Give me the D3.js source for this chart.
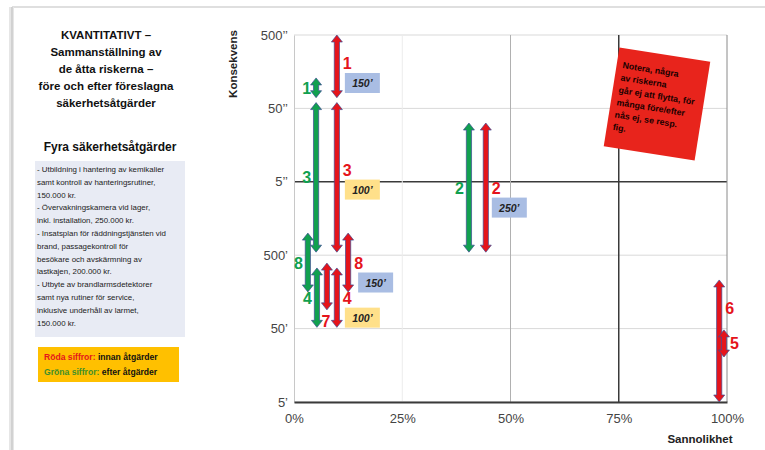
<!DOCTYPE html>
<html>
<head>
<meta charset="utf-8">
<script src="https://cdn.jsdelivr.net/npm/d3@7"></script>
<style>
  body { margin: 0; background: #fff; }
  svg { display: block; font-family: "Liberation Sans", Arial, sans-serif; }
</style>
</head>
<body>
<svg id="canvas"></svg>
<script>
// --- data (kr, probability in %) ---
let redRisk = ["1", "3", "8", "4", "7", "2", "6", "5"]
let redProb = [9.9, 9.9, 12.5, 9.9, 7.6, 44.3, 98.2, 99.3]
let redHigh = [500e6, 60e6, 1.0e6, 335e3, 390e3, 31.6e6, 230e3, 48e3]
let redLow = [70e6, 550e3, 158e3, 52e3, 90e3, 550e3, 5e3, 20.5e3]
let redCost = ["150’", "100’", "150’", "100’", "", "250’", "", ""]

let greenRisk = ["1", "3", "8", "4", "2"]
let greenProb = [5.1, 5.1, 3.2, 5.3, 40.4]
let greenHigh = [130e6, 60e6, 1.0e6, 335e3, 31.6e6]
let greenLow = [70e6, 550e3, 158e3, 52e3, 550e3]

let yTicks = [5e3, 5e4, 5e5, 5e6, 5e7, 5e8]
let yTickLabels = ["5’", "50’", "500’", "5’’", "50’’", "500’’"]
let xTicks = [0, 25, 50, 75, 100]

let titleLines = ["KVANTITATIVT –", "Sammanställning av", "de åtta riskerna –", "före och efter föreslagna", "säkerhetsåtgärder"]
let measuresTitle = "Fyra säkerhetsåtgärder"
let measuresLines = [
    "- Utbildning i hantering av kemikalier",
    "samt kontroll av hanteringsrutiner,",
    "150.000 kr.",
    "- Övervakningskamera vid lager,",
    "inkl. installation, 250.000 kr.",
    "- Insatsplan för räddningstjänsten vid",
    "brand, passagekontroll för",
    "besökare och avskärmning av",
    "lastkajen, 200.000 kr.",
    "- Utbyte av brandlarmsdetektorer",
    "samt nya rutiner för service,",
    "inklusive underhåll av larmet,",
    "150.000 kr."
]
let noteLines = ["Notera, några", "av riskerna", "går ej att flytta, för", "många före/efter", "nås ej, se resp.", "fig."]

let width = 765
let height = 450

let red = "#e5141b"
let green = "#11a04f"
let outline = "#3d4c94"

let canvas = d3.select("#canvas").attr("width", width).attr("height", height)

// slide frame
canvas.append("line").attr("x1", 12).attr("x2", width).attr("y1", 7).attr("y2", 7)
    .attr("stroke", "#d4d4d4").attr("stroke-width", 1.5)
canvas.append("rect").attr("x", 9).attr("y", 7).attr("width", 5).attr("height", height)
    .attr("fill", "#e6e6e6")
canvas.append("line").attr("x1", 12).attr("x2", 12).attr("y1", 7).attr("y2", height)
    .attr("stroke", "#bdbdbd").attr("stroke-width", 1)

// left panel
canvas.selectAll(".title").data(titleLines).enter().append("text")
    .attr("x", 106).attr("y", 39 + 0).attr("y", (d, i) => 39 + i * 17)
    .attr("text-anchor", "middle").attr("font-size", 11.5).attr("font-weight", "bold")
    .attr("fill", "#111").text(d => d)

canvas.append("text").attr("x", 110).attr("y", 151).attr("text-anchor", "middle")
    .attr("font-size", 12).attr("font-weight", "bold").attr("fill", "#111").text(measuresTitle)

canvas.append("rect").attr("x", 35).attr("y", 161).attr("width", 150).attr("height", 176)
    .attr("fill", "#e8ebf4")
canvas.selectAll(".measure").data(measuresLines).enter().append("text")
    .attr("x", 37).attr("y", (d, i) => 172 + i * 12.8)
    .attr("font-size", 7.9).attr("fill", "#222").text(d => d)

canvas.append("rect").attr("x", 38).attr("y", 347).attr("width", 141).attr("height", 35)
    .attr("fill", "#ffc000")
let leg1 = canvas.append("text").attr("x", 44).attr("y", 360).attr("font-size", 8.6).attr("font-weight", "bold")
leg1.append("tspan").attr("fill", "#e5141b").text("Röda siffror: ")
leg1.append("tspan").attr("fill", "#111").text("innan åtgärder")
let leg2 = canvas.append("text").attr("x", 44).attr("y", 375).attr("font-size", 8.6).attr("font-weight", "bold")
leg2.append("tspan").attr("fill", "#3f8f2a").text("Gröna siffror: ")
leg2.append("tspan").attr("fill", "#111").text("efter åtgärder")

// scales
let xScale = d3.scaleLinear().domain([0, 100]).range([294, 727])
let yScale = d3.scaleLog().domain([5e3, 5e8]).range([402, 35])

// grid
let grid = canvas.append("g")
grid.selectAll("line.h").data(yTicks).enter().append("line")
    .attr("x1", 294).attr("x2", 727)
    .attr("y1", d => yScale(d)).attr("y2", d => yScale(d))
    .attr("stroke", d => d === 5e6 ? "#3a3a3a" : "#d9d9d9")
    .attr("stroke-width", d => d === 5e6 ? 1.5 : 1)
grid.selectAll("line.v").data(xTicks.slice(1)).enter().append("line")
    .attr("x1", d => xScale(d)).attr("x2", d => xScale(d))
    .attr("y1", 35).attr("y2", 402)
    .attr("stroke", d => d === 75 ? "#3a3a3a" : d === 50 ? "#b0b0b0" : d === 25 ? "#ececec" : "#8a8a8a")
    .attr("stroke-width", d => d === 75 ? 1.5 : 1)

// axes
let yAxis = d3.axisLeft(yScale).tickValues(yTicks).tickFormat((d, i) => yTickLabels[i]).tickSize(0).tickPadding(6)
let yg = canvas.append("g").attr("transform", "translate(294,0)").call(yAxis)
yg.select(".domain").attr("stroke", "#c8c8c8")
yg.selectAll("text").attr("font-size", 13).attr("fill", "#444").attr("font-family", "Liberation Sans, Arial")

let xAxis = d3.axisBottom(xScale).tickValues(xTicks).tickFormat(d => d + "%").tickSize(0).tickPadding(12)
let xg = canvas.append("g").attr("transform", "translate(0,402)").call(xAxis)
xg.select(".domain").attr("stroke", "#3a3a3a").attr("stroke-width", 2)
xg.selectAll("text").attr("font-size", 13).attr("fill", "#444").attr("font-family", "Liberation Sans, Arial")

canvas.append("text").attr("transform", "translate(237,64) rotate(-90)")
    .attr("text-anchor", "middle").attr("font-size", 11.5).attr("font-weight", "bold")
    .attr("fill", "#222").text("Konsekvens")

// double-headed arrow
let arrowPath = (x, y1, y2) => {
    let s = 2.6, h = 5.5, l = 7
    if (y2 - y1 < 2 * l + 2) l = (y2 - y1) / 2 - 1
    return "M" + x + "," + y1 +
        " L" + (x + h) + "," + (y1 + l) + " L" + (x + s) + "," + (y1 + l) +
        " L" + (x + s) + "," + (y2 - l) + " L" + (x + h) + "," + (y2 - l) +
        " L" + x + "," + y2 +
        " L" + (x - h) + "," + (y2 - l) + " L" + (x - s) + "," + (y2 - l) +
        " L" + (x - s) + "," + (y1 + l) + " L" + (x - h) + "," + (y1 + l) + " Z"
}

let midY = (hi, lo) => yScale(Math.sqrt(hi * lo))

// green (after)
greenRisk.forEach((r, i) => {
    let x = xScale(greenProb[i])
    canvas.append("path").attr("d", arrowPath(x, yScale(greenHigh[i]), yScale(greenLow[i])))
        .attr("fill", green).attr("stroke", outline).attr("stroke-width", 0.7)
    canvas.append("text").attr("x", x - 5).attr("y", midY(greenHigh[i], greenLow[i]) + 6)
        .attr("text-anchor", "end").attr("font-size", 16).attr("font-weight", "bold")
        .attr("fill", green).text(r)
})

// red (before)
let boxFill = { "150’": "#a9bde3", "250’": "#a9bde3", "100’": "#ffe08a" }
redRisk.forEach((r, i) => {
    let x = xScale(redProb[i])
    let yHi = yScale(redHigh[i]), yLo = yScale(redLow[i])
    canvas.append("path").attr("d", arrowPath(x, yHi, yLo))
        .attr("fill", red).attr("stroke", outline).attr("stroke-width", 0.7)

    let lx = x + 6, ly = midY(redHigh[i], redLow[i]) + 6, anchor = "start"
    if (r === "1") ly = yHi + 34
    if (r === "3") ly = yHi + 73
    if (r === "6") ly = yHi + 34
    if (r === "7") { lx = x - 1; ly = yLo + 17; anchor = "middle" }
    canvas.append("text").attr("x", lx).attr("y", ly).attr("text-anchor", anchor)
        .attr("font-size", 16).attr("font-weight", "bold").attr("fill", red).text(r)

    if (redCost[i]) {
        let bx = x + (r === "8" ? 10 : r === "2" ? 6 : 8)
        canvas.append("rect").attr("x", bx).attr("y", ly + 4).attr("width", 35).attr("height", 20)
            .attr("fill", boxFill[redCost[i]])
        canvas.append("text").attr("x", bx + 17.5).attr("y", ly + 18).attr("text-anchor", "middle")
            .attr("font-size", 10.5).attr("font-weight", "bold").attr("font-style", "italic")
            .attr("fill", "#222").text(redCost[i])
    }
})

// sticky note
let note = canvas.append("g").attr("transform", "translate(657,104) rotate(9)")
note.append("rect").attr("x", -46).attr("y", -50).attr("width", 92).attr("height", 100)
    .attr("fill", "#e8241c")
note.selectAll("text").data(noteLines).enter().append("text")
    .attr("x", -40).attr("y", (d, i) => -30 + i * 12.5)
    .attr("font-size", 8.8).attr("font-weight", "bold").attr("fill", "#1a0000").text(d => d)

// x axis title
canvas.append("text").attr("x", 700).attr("y", 443).attr("text-anchor", "middle")
    .attr("font-size", 11.5).attr("font-weight", "bold").attr("fill", "#222").text("Sannolikhet")
</script>
</body>
</html>
